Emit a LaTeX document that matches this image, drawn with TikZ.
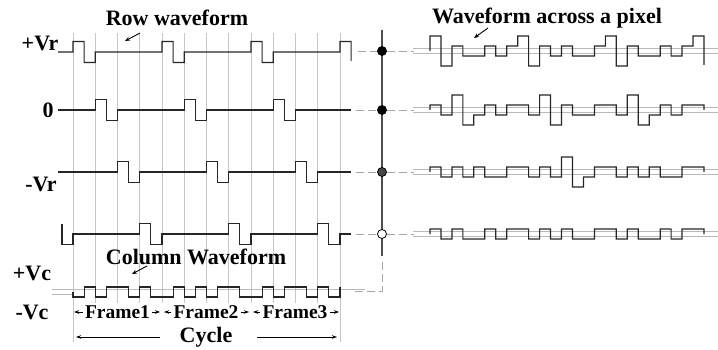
\documentclass[tikz,border=0pt]{standalone}
\usepackage{fontspec}
\setmainfont{Liberation Serif}
\usetikzlibrary{arrows.meta}
\begin{document}
\begin{tikzpicture}[x=1pt,y=-1pt,
  wave/.style={line width=1.2pt, black!85, line join=miter},
  gridl/.style={gray!45, line width=0.6pt},
  refl/.style={gray!55, line width=0.6pt},
  lbl/.style={font=\fontsize{22}{24}\selectfont\bfseries, inner sep=0pt},
  slbl/.style={font=\fontsize{19.5}{22}\selectfont\bfseries, inner sep=0pt},
  dashc/.style={gray!70, line width=0.8pt, dash pattern=on 8pt off 4pt},
  ann/.style={-{Stealth[length=5pt,width=4pt]}, line width=0.9pt},
  farrow/.style={-{Stealth[length=5pt,width=3.5pt]}, line width=0.8pt},
  dotn/.style={circle, draw=black, line width=0.8pt, minimum size=9pt, inner sep=0pt},
]
\useasboundingbox (0,0) rectangle (718,350);

% grid
\foreach \k in {1,...,11} { \draw[gridl] ({73+\k*22.25},33) -- ({73+\k*22.25},303); }
\draw[gridl] (73,33) -- (73,342);
\draw[gridl] (340,33) -- (340,342);

% labels
\node[lbl] (trow) at (177,18) {Row waveform};
\node[lbl] (tpix) at (547,18) {Waveform across a pixel};
\node[lbl] (lvr) at (40,43) {+Vr};
\node[lbl] (lz) at (48,110) {0};
\node[lbl] (lmvr) at (41,184) {-Vr};
\node[lbl] (lvc) at (32,273) {+Vc};
\node[lbl] (lmvc) at (32,312) {-Vc};
\node[lbl] (tcol) at (196,257) {Column Waveform};

% annotation arrows
\coordinate (a1s) at (140,33); \coordinate (a1e) at (125,41);
\draw[ann] (a1s) -- (a1e);
\coordinate (a2s) at (147,266); \coordinate (a2e) at (132,274);
\draw[ann] (a2s) -- (a2e);
\coordinate (a3s) at (488,28); \coordinate (a3e) at (474,38);
\draw[ann] (a3s) -- (a3e);

% row waveforms (left)
\draw[wave] (58,52) -- (73,52) \foreach \v [count=\i from 0] in {1,-1,0,0,0,0,0,0,1,-1,0,0,0,0,0,0,1,-1,0,0,0,0,0,0,1}
  { -- ({73+\i*11.125},{52-\v*10.5}) -- ({73+(\i+1)*11.125},{52-\v*10.5}) } -- (351.1,61);
\draw[wave] (58,110) -- (73,110) \foreach \v [count=\i from 0] in {0,0,1,-1,0,0,0,0,0,0,1,-1,0,0,0,0,0,0,1,-1,0,0,0,0,0}
  { -- ({73+\i*11.125},{110-\v*10.5}) -- ({73+(\i+1)*11.125},{110-\v*10.5}) };
\draw[wave] (58,172) -- (73,172) \foreach \v [count=\i from 0] in {0,0,0,0,1,-1,0,0,0,0,0,0,1,-1,0,0,0,0,0,0,1,-1,0,0,0}
  { -- ({73+\i*11.125},{172-\v*10.5}) -- ({73+(\i+1)*11.125},{172-\v*10.5}) };
\draw[wave] (61.9,223.5) -- (61.9,244.5) -- (73,244.5) \foreach \v [count=\i from 0] in {0,0,0,0,0,0,1,-1,0,0,0,0,0,0,1,-1,0,0,0,0,0,0,1,-1,0}
  { -- ({73+\i*11.125},{234-\v*10.5}) -- ({73+(\i+1)*11.125},{234-\v*10.5}) };

% column waveform
\draw[refl] (52,289.5) -- (365,289.5);
\draw[refl] (52,294.5) -- (73,294.5);
\draw[wave] (73,292) \foreach \v [count=\i from 0] in {-1,1,-1,1,1,-1,1,-1,-1,1,-1,1,-1,1,1,-1,-1,1,-1,1,1,-1,1,-1}
  { -- ({73+\i*11.125},{292-\v*5}) -- ({73+(\i+1)*11.125},{292-\v*5}) } -- (340,287);

% frame labels
\node[slbl] (f1) at (117.5,312) {Frame1};
\node[slbl] (f2) at (206,312) {Frame2};
\node[slbl] (f3) at (295,312) {Frame3};
\coordinate (g0) at (74,312); \coordinate (g1a) at (160,312); \coordinate (g1b) at (164,312);
\coordinate (g2a) at (249,312); \coordinate (g2b) at (253,312); \coordinate (g3) at (339,312);
\draw[farrow] ([xshift=-2pt]f1.west) -- (g0);
\draw[farrow] ([xshift=2pt]f1.east) -- (g1a);
\draw[farrow] ([xshift=-2pt]f2.west) -- (g1b);
\draw[farrow] ([xshift=2pt]f2.east) -- (g2a);
\draw[farrow] ([xshift=-2pt]f3.west) -- (g2b);
\draw[farrow] ([xshift=2pt]f3.east) -- (g3);
\node[lbl] (cyc) at (206,337) {Cycle};
\coordinate (cl) at (76,337); \coordinate (cr) at (337,337);
\draw[farrow] ([xshift=-20pt]cyc.west) -- (cl);
\draw[farrow] ([xshift=25pt]cyc.east) -- (cr);

% vertical bus line
\coordinate (vt) at (382,30); \coordinate (vb) at (382,256);
\draw[line width=1.6pt, gray!60!black] (vt) -- (vb);
\coordinate (vd1) at (382,262); \coordinate (vd2) at (382,291); \coordinate (vd3) at (352,291);
\draw[dashc] (vd1) -- (vd2) -- (vd3);

% reference double lines on right
\foreach \yb in {51,110,172,234} {
  \draw[refl] (413,{\yb-2.5}) -- (718,{\yb-2.5});
  \draw[refl] (413,{\yb+2.5}) -- (718,{\yb+2.5});
}

% dots and dashed links
\node[dotn, fill=black] (d1) at (382,51) {};
\node[dotn, fill=black] (d2) at (382,110) {};
\node[dotn, fill=gray!55!black] (d3) at (382,172) {};
\node[dotn, fill=white] (d4) at (382,234) {};
\coordinate (e1) at (358,51); \coordinate (s1) at (414,51);
\coordinate (e2) at (356,110); \coordinate (s2) at (414,110);
\coordinate (e3) at (356,172); \coordinate (s3) at (414,172);
\coordinate (e4) at (356,234); \coordinate (s4) at (414,234);
\draw[dashc] (e1) -- (d1); \draw[dashc] (d1) -- (s1);
\draw[dashc] (e2) -- (d2); \draw[dashc] (d2) -- (s2);
\draw[dashc] (e3) -- (d3); \draw[dashc] (d3) -- (s3);
\draw[dashc] (e4) -- (d4); \draw[dashc] (d4) -- (s4);

% pixel waveforms (right)
\draw[wave] (430,51) \foreach \v [count=\i from 0] in {3,-3,1,-1,-1,1,-1,1,3,-3,1,-1,1,-1,-1,1,3,-3,1,-1,-1,1,-1,1,3}
  { -- ({430+\i*10.96},{51-\v*5}) -- ({430+(\i+1)*10.96},{51-\v*5}) } -- (704,65);
\draw[wave] (430,110) \foreach \v [count=\i from 0] in {1,-1,3,-3,-1,1,-1,1,1,-1,3,-3,1,-1,-1,1,1,-1,3,-3,-1,1,-1,1,1}
  { -- ({430+\i*10.96},{110-\v*5}) -- ({430+(\i+1)*10.96},{110-\v*5}) } -- (704,110);
\draw[wave] (430,172) \foreach \v [count=\i from 0] in {1,-1,1,-1,1,-1,-1,1,1,-1,1,-1,3,-3,-1,1,1,-1,1,-1,1,-1,-1,1,1}
  { -- ({430+\i*10.96},{172-\v*5}) -- ({430+(\i+1)*10.96},{172-\v*5}) } -- (704,172);
\draw[wave] (430,234) \foreach \v [count=\i from 0] in {1,-1,1,-1,-1,1,-1,1,1,-1,1,-1,1,-1,-1,1,1,-1,1,-1,-1,1,-1,1,1}
  { -- ({430+\i*10.96},{234-\v*5}) -- ({430+(\i+1)*10.96},{234-\v*5}) } -- (704,234);
\end{tikzpicture}
\end{document}
